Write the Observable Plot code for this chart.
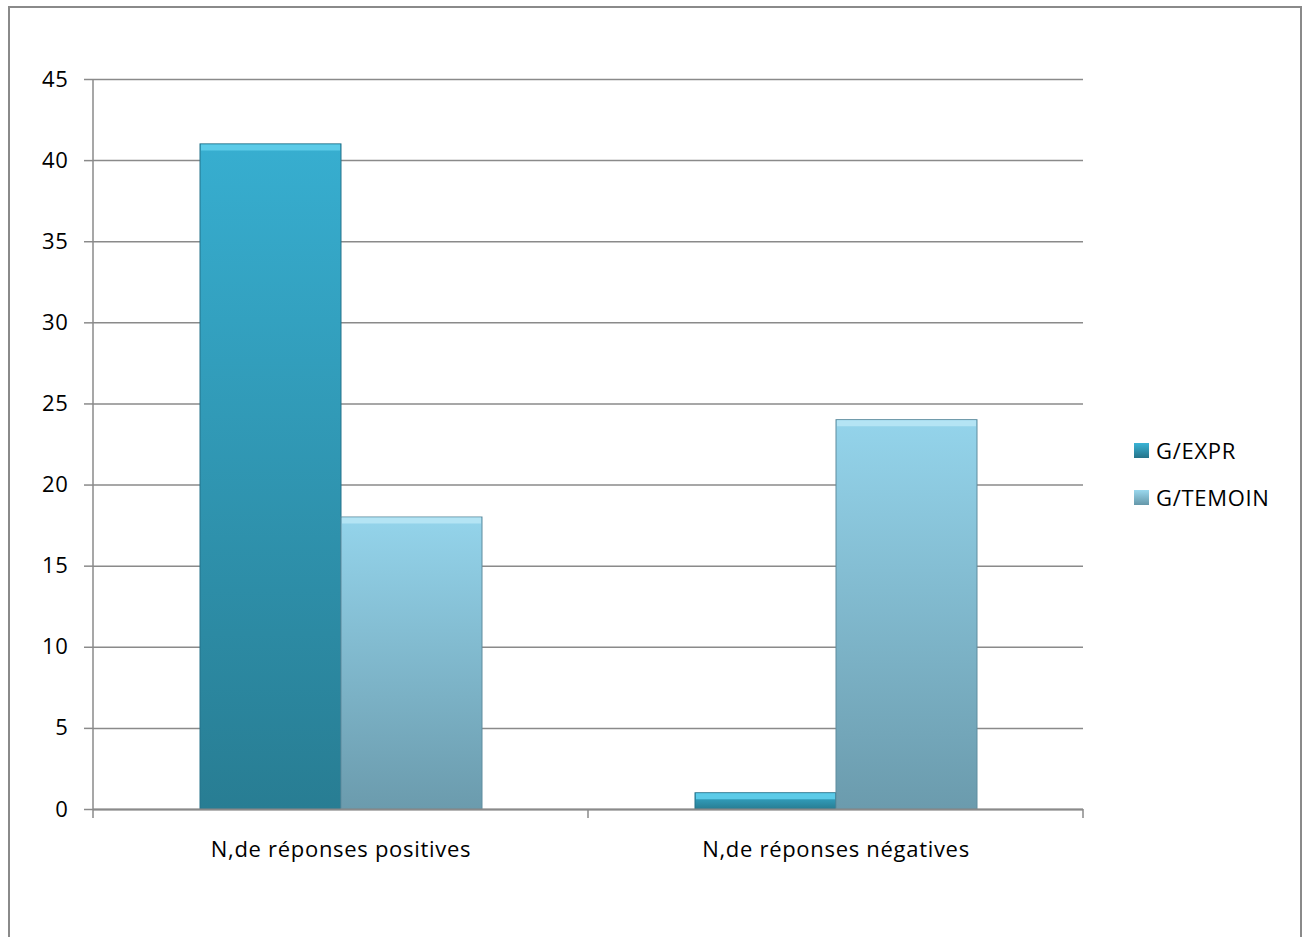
<!DOCTYPE html>
<html>
<head>
<meta charset="utf-8">
<script src="https://cdn.jsdelivr.net/npm/d3@7"></script>
<script src="https://cdn.jsdelivr.net/npm/@observablehq/plot@0.6"></script>
<style>
  html, body { margin: 0; padding: 0; background: #fff; overflow: hidden; }
  #wrap { position: relative; width: 1307px; height: 937px; font-family: "Open Sans", sans-serif; }
  #border { position: absolute; left: 8px; top: 6px; width: 1290px; height: 1000px;
            border: 2px solid #8a8a8a; border-bottom: none; pointer-events: none; }
  #chart { position: absolute; left: 0; top: 0; }
  .legend { position: absolute; left: 1134px; font-size: 22px; color: #000; letter-spacing: 0.7px; }
  .legend .row { position: absolute; left: 0; white-space: nowrap; display: flex; align-items: center; height: 26px; }
  .legend .sw { width: 15px; height: 15px; margin-right: 7px; box-sizing: border-box; }
</style>
</head>
<body>
<div id="wrap">
  <svg width="0" height="0" style="position:absolute">
    <defs>
      <linearGradient id="gExpr" x1="0" y1="0" x2="0" y2="1">
        <stop offset="0" stop-color="#37aed0"/>
        <stop offset="1" stop-color="#287d93"/>
      </linearGradient>
      <linearGradient id="gTem" x1="0" y1="0" x2="0" y2="1">
        <stop offset="0" stop-color="#94d4eb"/>
        <stop offset="1" stop-color="#6b9bad"/>
      </linearGradient>
    </defs>
  </svg>
  <div id="chart"></div>
  <div id="border"></div>
  <div class="legend" id="legend"></div>
</div>
<script>
// Categories, series and values
const categories = ["N,de réponses positives", "N,de réponses négatives"];
const series = ["G/EXPR", "G/TEMOIN"];
const exprValues = [41, 1];
const temoinValues = [18, 24];
const yTicks = [0, 5, 10, 15, 20, 25, 30, 35, 40, 45];

// Bar fills and top-edge highlight colours per series
const seriesFill = ["url(#gExpr)", "url(#gTem)"];
const seriesHighlight = ["#5ccbe8", "#b4e4f4"];
const seriesEdge = ["#24728a", "#5f8c9e"];

const rows = categories.flatMap((c, i) => [
  {category: c, group: series[0], value: exprValues[i], s: 0},
  {category: c, group: series[1], value: temoinValues[i], s: 1}
]);

const plot = Plot.plot({
  width: 1307,
  height: 937,
  marginLeft: 92,
  marginRight: 224,
  marginTop: 79,
  marginBottom: 128,
  style: {fontFamily: "Open Sans, sans-serif", fontSize: "22px", color: "#000", background: "transparent", letterSpacing: "0.7px"},
  fx: {domain: categories, padding: 0, label: null},
  x: {domain: series, paddingInner: 0, paddingOuter: 0.746, axis: null},
  y: {domain: [0, 45], label: null},
  marks: [
    Plot.gridY(yTicks, {stroke: "#8a8a8a", strokeOpacity: 1, strokeWidth: 1.5}),
    Plot.axisY(yTicks, {tickSize: 9, tickPadding: 16, stroke: "#8a8a8a", strokeWidth: 1.5, fill: "#000", fontSize: 22, label: null}),
    Plot.axisFx({anchor: "bottom", tickSize: 0, tickPadding: 32, fontSize: 22, fill: "#000", label: null}),
    Plot.barY(rows, {
      fx: "category", x: "group", y: "value",
      fill: d => seriesFill[d.s],
      stroke: d => seriesEdge[d.s], strokeWidth: 1,
      style: {filter: "drop-shadow(2px 1px 2px rgba(0,0,0,0.35))"}
    }),
    Plot.tickY(rows, {
      fx: "category", x: "group", y: "value",
      stroke: d => seriesHighlight[d.s], strokeWidth: 6, dy: 3, inset: 1
    }),
    Plot.ruleY([0], {stroke: "#8a8a8a", strokeWidth: 2})
  ]
});

document.getElementById("chart").appendChild(plot);

// Y axis line and category separator ticks, placed from the plot's own scales
const fx = plot.scale("fx");
const y = plot.scale("y");
const svg = d3.select(plot);
const y0 = y.apply(0), y45 = y.apply(45);
const left = fx.apply(categories[0]);
const step = fx.bandwidth !== undefined ? fx.bandwidth : (fx.apply(categories[1]) - fx.apply(categories[0]));
const g = svg.append("g").attr("stroke", "#8a8a8a").attr("stroke-width", 1.5);
g.append("line").attr("x1", left).attr("x2", left).attr("y1", y45).attr("y2", y0);
categories.concat([null]).forEach((c, i) => {
  const xx = left + i * step;
  g.append("line").attr("x1", xx).attr("x2", xx).attr("y1", y0).attr("y2", y0 + 9);
});

// Legend
const legend = document.getElementById("legend");
const legendTops = [437, 484];
const swatchColors = [["#3bb4d6", "#257389"], ["#9ad8ee", "#6597a9"]];
series.forEach((name, i) => {
  const row = document.createElement("div");
  row.className = "row";
  row.style.top = legendTops[i] + "px";
  const sw = document.createElement("div");
  sw.className = "sw";
  sw.style.background = `linear-gradient(${swatchColors[i][0]}, ${swatchColors[i][1]})`;
  const label = document.createElement("span");
  label.textContent = name;
  row.appendChild(sw);
  row.appendChild(label);
  legend.appendChild(row);
});
</script>
</body>
</html>
